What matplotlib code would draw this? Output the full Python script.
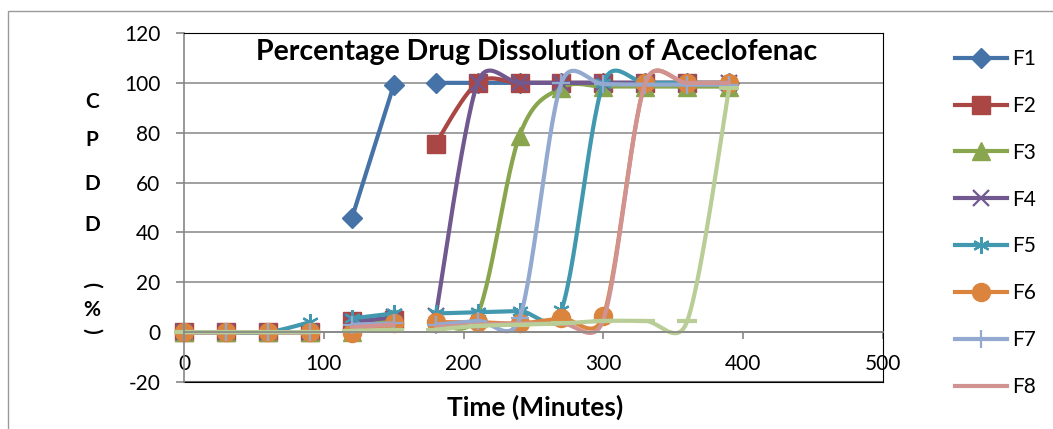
import numpy as np
import matplotlib
matplotlib.use("Agg")
import matplotlib.pyplot as plt
from matplotlib.lines import Line2D
from matplotlib.patches import Rectangle

plt.rcParams['font.family'] = ['Lato', 'DejaVu Sans']
plt.rcParams['axes.unicode_minus'] = False

n = np.nan

# sampling times (min); 105 and 165 are blank rows in the sheet
time = [0, 30, 60, 90, 105, 120, 150, 165, 180, 210, 240, 270, 300, 330, 360, 390]

f1 = [n, n, n, n, n, 45.6, 99.0, n, 100, 100, 100, 100, 100, 100, 100, 100]
f2 = [0, 0, 0, 0, n, 4.5, 5.0, n, 75.6, 100, 100, 100, 100, 100, 100, n]
f3 = [0, 0, 0, 0, n, 0.0, 6.5, n, 4.0, 7.0, 78.8, 98.0, 98.5, 98.5, 98.5, 98.5]
f4 = [0, 0, 0, 0, n, 4.0, 6.0, n, 6.5, 100, 100, 100, 100, 100, 100, 100]
f5 = [0, 0, 0, 4.0, n, 5.5, 7.5, n, 7.5, 8.0, 8.5, 9.0, 100, 100, 100, 100]
f6 = [0, 0, 0, 0, n, -0.5, 3.5, n, 4.0, 4.0, 3.5, 5.5, 6.5, 100, 100, 100]
f7 = [0, 0, 0, 0, n, 3.0, 3.5, n, 3.0, 4.5, 5.5, 100, 99.5, 99.3, 99.3, 99.3]
f8 = [0, 0, 0, 0, n, 2.0, 3.0, n, 2.0, 3.0, 3.5, 3.5, 5.0, 100, 100, 100]
f9 = [0, 0, 0, 0, n, 0.5, 1.0, n, 1.0, 2.5, 3.0, 3.5, 4.5, 4.5, 4.5, 98.0]

names = ['F1', 'F2', 'F3', 'F4', 'F5', 'F6', 'F7', 'F8', 'F9']
series = [f1, f2, f3, f4, f5, f6, f7, f8, f9]
colors = ['#4572A7', '#AA4643', '#89A54E', '#71588F', '#4198AF',
          '#DB843D', '#93A9CF', '#D19392', '#B9CD96']
markers = ['D', 's', '^', 'x', (6, 2, 0), 'o', '+', '', '_']
msizes = [10, 13, 13, 12, 12, 13, 13, 0, 14]
mews = [1, 1, 1, 1.6, 1.6, 1, 1.6, 1, 3]

W, H = 1053, 429
XMIN, XMAX, YMIN, YMAX = 0, 500, -20, 120
AX_L, AX_R, AX_T, AX_B = 184, 883, 33, 382
SX = (AX_R - AX_L) / (XMAX - XMIN)
SY = (AX_B - AX_T) / (YMAX - YMIN)


def excel_smooth(xs, ys, steps=30, k=0.7):
    """Bezier smoothing like Excel's 'smoothed line', segments split at NaN.
    Worked out in pixel space so the control arms can be limited."""
    xs = np.asarray(xs, float)
    ys = np.asarray(ys, float)
    scale = np.array([SX, SY])
    out_x, out_y = [], []
    seg = []
    for x, y in list(zip(xs, ys)) + [(n, n)]:
        if np.isnan(y):
            if seg:
                p = np.array(seg) * scale
                m = len(p)
                for i in range(m - 1):
                    p0 = p[i - 1] if i > 0 else p[i]
                    p1, p2 = p[i], p[i + 1]
                    p3 = p[i + 2] if i + 2 < m else p[i + 1]
                    d = np.hypot(*(p2 - p1))
                    v1 = (p2 - p0) / 6
                    v2 = (p3 - p1) / 6
                    for v in (v1, v2):
                        L = np.hypot(*v)
                        if L > k * d:
                            v *= k * d / L
                    c1 = p1 + v1
                    c2 = p2 - v2
                    t = np.linspace(0, 1, steps)[:, None]
                    b = ((1 - t) ** 3) * p1 + 3 * ((1 - t) ** 2) * t * c1 \
                        + 3 * (1 - t) * t ** 2 * c2 + t ** 3 * p2
                    b = b / scale
                    out_x += list(b[:, 0])
                    out_y += list(b[:, 1])
                out_x.append(n)
                out_y.append(n)
            seg = []
        else:
            seg.append((x, y))
    return np.array(out_x), np.array(out_y)


fig = plt.figure(figsize=(W / 100, H / 100), dpi=100)
ax = fig.add_axes([AX_L / W, (H - AX_B) / H, (AX_R - AX_L) / W, (AX_B - AX_T) / H])

for i, (vals, c) in enumerate(zip(series, colors)):
    sx, sy = excel_smooth(time, vals)
    ax.plot(sx, sy, color=c, lw=3.0, solid_capstyle='round', clip_on=False)
    if markers[i]:
        ax.plot(time, vals, ls='none', marker=markers[i], ms=msizes[i],
                color=c, mec=c, mew=mews[i], clip_on=False)

ax.set_xlim(XMIN, XMAX)
ax.set_ylim(YMIN, YMAX)
ax.set_xticks(range(0, 501, 100))
ax.set_yticks(range(-20, 121, 20))
ax.yaxis.grid(True, color='#868686', lw=1.1)
ax.set_axisbelow(True)

gray = '#868686'
ax.spines['bottom'].set_position(('data', 0))
ax.spines['bottom'].set_color(gray)
ax.spines['bottom'].set_linewidth(1.2)
ax.spines['left'].set_color(gray)
ax.spines['left'].set_linewidth(1.2)
ax.spines['top'].set_color('black')
ax.spines['right'].set_color('black')
ax.axhline(-20, color='black', lw=1.5, clip_on=False, zorder=0.5)
ax.tick_params(axis='y', direction='out', length=6, width=1.2, color=gray,
               pad=11, labelsize=15)
ax.tick_params(axis='x', direction='out', length=5, width=1.2, color=gray,
               pad=11, labelsize=15)

fig.text(537 / W, (H - 52) / H, 'Percentage Drug Dissolution of Aceclofenac',
         ha='center', va='center', fontsize=20.5, fontweight='bold')
fig.text(535 / W, (H - 407) / H, 'Time (Minutes)', ha='center', va='center',
         fontsize=19, fontweight='bold')

# stacked y label
for ch, yp, rot in [('C', 102, 0), ('P', 140, 0), ('D', 184, 0), ('D', 225, 0),
                    ('(', 285, -90), ('%', 310, 0), (')', 331, -90)]:
    fig.text(92 / W, (H - yp) / H, ch, ha='center', va='center',
             fontsize=15, fontweight='bold', rotation=rot)

handles = []
for i in range(8):
    handles.append(Line2D([], [], color=colors[i], lw=3.0,
                          marker=markers[i] if markers[i] else None,
                          ms=msizes[i], mew=mews[i], mec=colors[i]))
fig.legend(handles, names[:8], loc='upper left',
           bbox_to_anchor=(955 / W, (H - 49) / H), frameon=False,
           fontsize=15, handlelength=2.5, handletextpad=0.25,
           labelspacing=1.29, borderaxespad=0, borderpad=0)

fig.patches.append(Rectangle((8 / W, -0.1), 1.2, (H - 11) / H + 0.1,
                             transform=fig.transFigure, fill=False,
                             ec='#9a9a9a', lw=1))

fig.savefig('out.png', dpi=100)
